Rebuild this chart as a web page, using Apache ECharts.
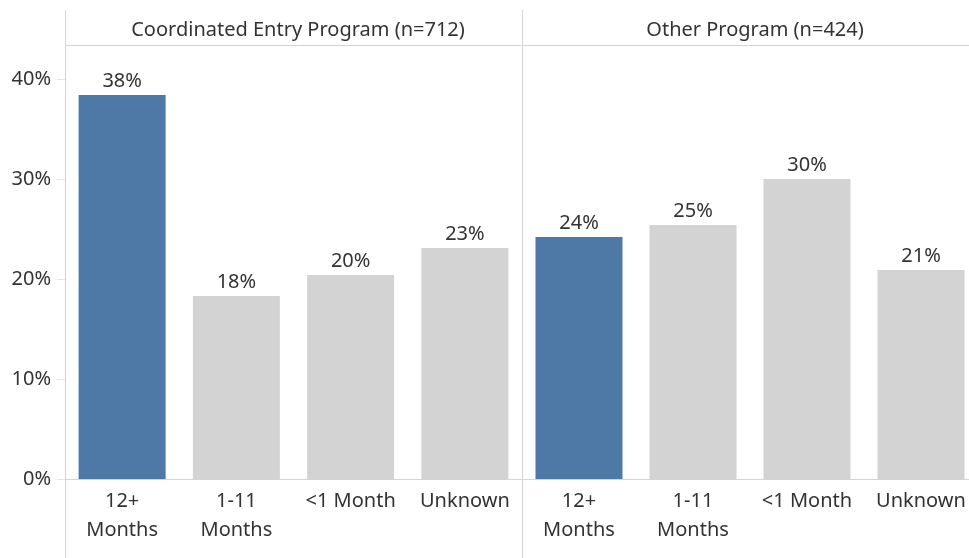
<!DOCTYPE html>
<html>
<head>
<meta charset="utf-8">
<script src="https://cdn.jsdelivr.net/npm/echarts@6/dist/echarts.min.js"></script>
<style>
  html, body { margin: 0; padding: 0; background: #fff; overflow: hidden; }
  #main { width: 978px; height: 558px; }
</style>
</head>
<body>
<div id="main"></div>
<script>
// categories and panel titles
var categories = ['12+\nMonths', '1-11\nMonths', '<1 Month', 'Unknown'];
var panelTitles = ['Coordinated Entry Program (n=712)', 'Other Program (n=424)'];
// share of clients (%) per category, one array per panel
var coordinatedValues = [38.4, 18.3, 20.4, 23.1];
var otherValues = [24.2, 25.4, 30.0, 20.9];
var yTicks = [0, 10, 20, 30, 40];

var BLUE = '#4E79A7';
var GREY = '#D3D3D3';
var LINE = '#D4D4D4';
var TEXT = '#333333';
var FONT = '"Noto Sans", sans-serif';
var FS = 20;

// 第一个柱子高亮成蓝色, 其余灰色
function barData(vals) {
  var out = [];
  for (var i = 0; i < vals.length; i++) {
    out.push({ value: vals[i], itemStyle: { color: i === 0 ? BLUE : GREY } });
  }
  return out;
}

function yAxis(gridIndex, show) {
  return {
    type: 'value', gridIndex: gridIndex,
    min: 0, max: 43.3, interval: 10,
    axisLine: { show: false },
    splitLine: { show: false },
    axisTick: { show: show, length: 8, customValues: yTicks, lineStyle: { color: '#E6E6E6' } },
    axisLabel: {
      show: show, margin: 14, color: TEXT, fontSize: FS, fontFamily: FONT,
      customValues: yTicks,
      formatter: function (v) { return v + '%'; }
    }
  };
}

function xAxis(gridIndex) {
  return {
    type: 'category', gridIndex: gridIndex, data: categories,
    axisLine: { lineStyle: { color: LINE } },
    axisTick: { length: 7, lineStyle: { color: '#E6E6E6' } },
    axisLabel: { margin: 8, color: TEXT, fontSize: FS, fontFamily: FONT, lineHeight: 29, interval: 0 }
  };
}

function series(idx, vals) {
  return {
    type: 'bar', xAxisIndex: idx, yAxisIndex: idx,
    barWidth: 87,
    data: barData(vals),
    label: {
      show: true, position: 'top', distance: 4,
      color: TEXT, fontSize: FS, fontFamily: FONT,
      formatter: function (p) { return Math.round(p.value) + '%'; }
    }
  };
}

var myChart = echarts.init(document.getElementById('main'), null, { renderer: 'canvas' });
var option = {
  backgroundColor: '#fff',
  animation: false,
  title: [
    { text: panelTitles[0], left: 293, top: 15, textAlign: 'center',
      textStyle: { color: TEXT, fontSize: FS, fontWeight: 'normal', fontFamily: FONT } },
    { text: panelTitles[1], left: 750, top: 15, textAlign: 'center',
      textStyle: { color: TEXT, fontSize: FS, fontWeight: 'normal', fontFamily: FONT } }
  ],
  grid: [
    { left: 65, top: 46, width: 457, height: 433 },
    { left: 522, top: 46, width: 456, height: 433 }
  ],
  xAxis: [xAxis(0), xAxis(1)],
  yAxis: [yAxis(0, true), yAxis(1, false)],
  series: [series(0, coordinatedValues), series(1, otherValues)],
  graphic: [
    { type: 'line', shape: { x1: 65.5, y1: 10, x2: 65.5, y2: 558 }, style: { stroke: LINE, lineWidth: 1 }, z: 10 },
    { type: 'line', shape: { x1: 522.5, y1: 10, x2: 522.5, y2: 558 }, style: { stroke: LINE, lineWidth: 1 }, z: 10 },
    { type: 'line', shape: { x1: 65, y1: 45.5, x2: 978, y2: 45.5 }, style: { stroke: LINE, lineWidth: 1 }, z: 10 }
  ]
};
myChart.setOption(option);
</script>
</body>
</html>
